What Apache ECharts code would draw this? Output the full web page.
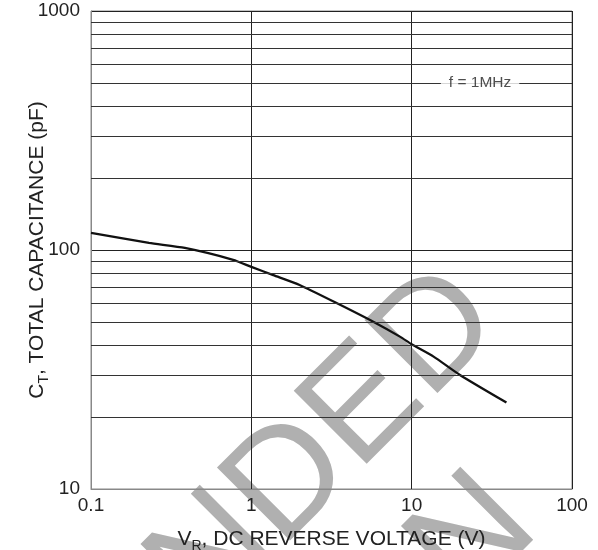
<!DOCTYPE html>
<html>
<head>
<meta charset="utf-8">
<script src="https://cdn.jsdelivr.net/npm/echarts/dist/echarts.min.js"></script>
<style>
html,body{margin:0;padding:0;background:#fff;}
#c{width:598px;height:550px;}
</style>
</head>
<body>
<div id="c"></div>
<script>
// ---- data ----
var voltage = [0.1, 0.23, 0.385, 0.77, 1, 1.37, 2, 3.4, 5.8, 8.5, 10, 13.7, 20, 39];
var capacitance = [118, 107, 102, 91, 85, 78.5, 71.4, 60, 50, 43.3, 40.3, 35.8, 30, 23];
var xTickValues = [0.1, 1, 10, 100];
var xTickLabels = ['0.1', '1', '10', '100'];
var yTickValues = [10, 100, 1000];
var yTickLabels = ['10', '100', '1000'];
var yMinorLines = [20, 30, 40, 50, 60, 70, 80, 90, 200, 300, 400, 500, 600, 700, 800, 900];
var noteText = 'f = 1MHz';
var notePos = [26.7, 500];
var watermark1 = 'NOT RECOMMENDED';
var watermark2 = 'FOR NEW DESIGN';

var curve = voltage.map(function (v, i) { return [v, capacitance[i]]; });
function lbl(vals, labels) {
  return function (v) {
    var lv = Math.log10(v);
    for (var i = 0; i < vals.length; i++) {
      if (Math.abs(Math.log10(vals[i]) - lv) < 1e-6) return labels[i];
    }
    return '';
  };
}
var FONT = '"Liberation Sans", Arial, Helvetica, sans-serif';
var chart = echarts.init(document.getElementById('c'), null, {renderer: 'canvas'});
chart.setOption({
  animation: false,
  backgroundColor: '#fff',
  textStyle: {fontFamily: FONT},
  graphic: {
    elements: [
      {type: 'text', x: 476, y: 296, rotation: Math.PI / 4, z: -10, silent: true,
       style: {text: watermark1, fontSize: 150, fontFamily: FONT, fill: '#b0b0b0', align: 'right', verticalAlign: 'middle'}},
      {type: 'text', x: 512.7, y: 502, rotation: Math.PI / 4, z: -10, silent: true,
       style: {text: watermark2, fontSize: 150, fontFamily: FONT, fill: '#b0b0b0', align: 'right', verticalAlign: 'middle'}}
    ]
  },
  grid: {left: 91, right: 26, top: 11, bottom: 61, show: true, borderColor: '#888', borderWidth: 1, z: 1,
         containLabel: false, outerBoundsMode: 'none'},
  xAxis: {
    type: 'log', logBase: 10, min: 0.1, max: 100, z: 3,
    name: '{a|V}{s|R}{a|, DC REVERSE VOLTAGE (V)}',
    nameLocation: 'middle', nameGap: 36, nameMoveOverlap: false,
    nameTextStyle: {rich: {
      a: {fontSize: 21, color: '#222', fontFamily: FONT},
      s: {fontSize: 14, color: '#222', fontFamily: FONT, padding: [14, 0, 0, 0]}
    }},
    axisLine: {show: true, lineStyle: {color: '#888', width: 1}},
    axisTick: {show: false},
    axisLabel: {fontSize: 19, color: '#222', margin: 7, formatter: lbl(xTickValues, xTickLabels)},
    splitLine: {show: true, lineStyle: {color: '#222', width: 1}},
    minorTick: {show: false}, minorSplitLine: {show: false}
  },
  yAxis: {
    type: 'log', logBase: 10, min: 10, max: 1000, z: 3,
    name: '{a|C}{s|T}{a|, TOTAL CAPACITANCE (pF)}',
    nameLocation: 'middle', nameGap: 40, nameRotate: 90, nameMoveOverlap: false,
    nameTextStyle: {rich: {
      a: {fontSize: 21, color: '#222', fontFamily: FONT},
      s: {fontSize: 14, color: '#222', fontFamily: FONT, padding: [14, 0, 0, 0]}
    }},
    axisLine: {show: true, lineStyle: {color: '#888', width: 1}},
    axisTick: {show: false},
    axisLabel: {fontSize: 19, color: '#222', margin: 11, formatter: lbl(yTickValues, yTickLabels)},
    splitLine: {show: true, lineStyle: {color: '#222', width: 1}},
    minorTick: {show: false}, minorSplitLine: {show: false}
  },
  series: [
    {
      type: 'line', z: 1, data: [], silent: true,
      markLine: {
        silent: true, symbol: ['none', 'none'], animation: false,
        label: {show: false},
        lineStyle: {color: '#333', width: 1, type: 'solid'},
        data: yMinorLines.map(function (v) { return {yAxis: v}; })
      }
    },
    {
      type: 'line', z: 4, data: curve, smooth: 0.2, showSymbol: false, symbol: 'none',
      lineStyle: {color: '#111', width: 2.3}
    },
    {
      type: 'scatter', z: 5, data: [notePos], symbolSize: 0, silent: true,
      label: {show: true, position: 'inside', formatter: noteText, fontSize: 15.5, color: '#222',
              backgroundColor: '#fff', padding: [3, 8, 3, 8], fontFamily: FONT}
    }
  ]
});
</script>
</body>
</html>
